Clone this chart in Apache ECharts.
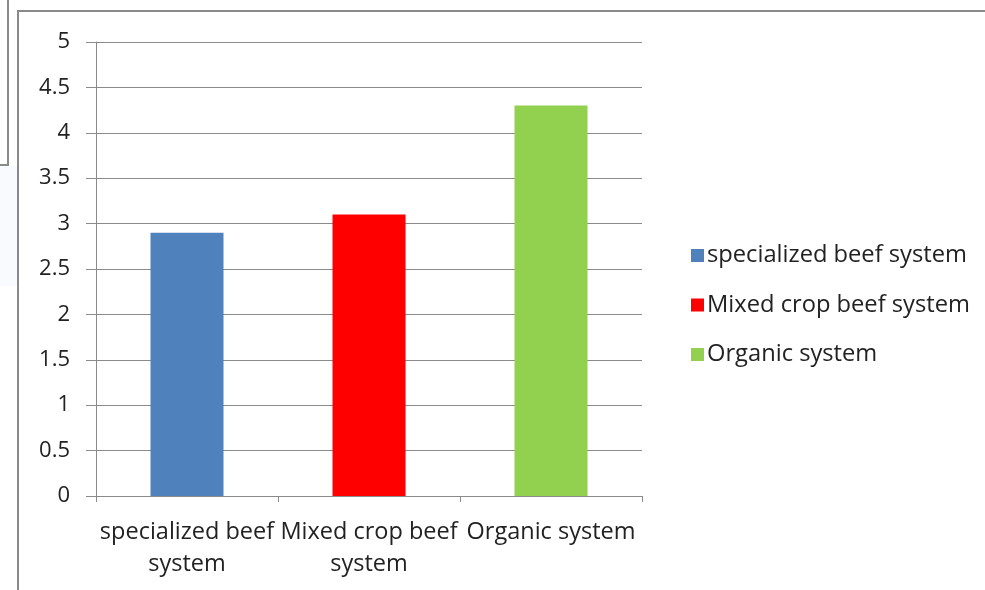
<!DOCTYPE html>
<html>
<head>
<meta charset="utf-8">
<script src="https://cdn.jsdelivr.net/npm/echarts@6/dist/echarts.min.js"></script>
<style>
  html, body { margin: 0; padding: 0; background: #fff; }
  #chart { width: 985px; height: 590px; }
</style>
</head>
<body>
<div id="chart"></div>
<script>
// Categories and values
const categories = ['specialized beef system', 'Mixed crop beef system', 'Organic system'];
const categoryLabels = ['specialized beef\nsystem', 'Mixed crop beef\nsystem', 'Organic system'];
const seriesNames = ['specialized beef system', 'Mixed crop beef system', 'Organic system'];
const values = [2.9, 3.1, 4.3];
const colors = ['#4f81bd', '#ff0000', '#92d050'];
const yTicks = [0, 0.5, 1, 1.5, 2, 2.5, 3, 3.5, 4, 4.5, 5];

const FONT = '"Open Sans", sans-serif';
const chart = echarts.init(document.getElementById('chart'), null, { renderer: 'canvas' });

// One series per system so each appears in the legend; stacked so each bar stays centred
const series = seriesNames.map((name, i) => ({
  name: name,
  type: 'bar',
  stack: 'total',
  barWidth: 73,
  itemStyle: { color: colors[i] },
  data: categories.map((c, j) => (j === i ? values[i] : '-'))
}));

chart.setOption({
  animation: false,
  textStyle: { fontFamily: FONT },
  graphic: [
    { type: 'rect', shape: { x: 0, y: 166, width: 17, height: 120 }, style: { fill: '#f8fafd' }, silent: true },
    { type: 'polyline', shape: { points: [[8, 0], [8, 165], [0, 165]] }, style: { stroke: '#8a8a8a', lineWidth: 2, fill: null } },
    { type: 'polyline', shape: { points: [[18, 590], [18, 11], [985, 11]] }, style: { stroke: '#8a8a8a', lineWidth: 2, fill: null } }
  ],
  grid: { left: 96, right: 343, top: 42, bottom: 94, containLabel: false },
  legend: {
    orient: 'vertical',
    left: 686,
    top: 236,
    icon: 'rect',
    itemWidth: 13,
    itemHeight: 13,
    itemGap: 20.5,
    textStyle: { fontFamily: FONT, fontSize: 23.7, lineHeight: 29, color: '#222', padding: [0, 0, 0, -2] },
    data: seriesNames
  },
  xAxis: {
    type: 'category',
    data: categories,
    axisLine: { lineStyle: { color: '#8a8a8a', width: 1 } },
    axisTick: { show: true, length: 6, lineStyle: { color: '#8a8a8a' } },
    axisLabel: {
      interval: 0,
      margin: 20,
      fontFamily: FONT,
      fontSize: 23.5,
      lineHeight: 32,
      color: '#222',
      formatter: (v, i) => categoryLabels[i]
    }
  },
  yAxis: {
    type: 'value',
    min: 0,
    max: 5,
    interval: 0.5,
    axisLine: { show: true, lineStyle: { color: '#8a8a8a', width: 1 } },
    axisTick: { show: true, inside: false, length: 10, lineStyle: { color: '#8a8a8a' } },
    splitLine: { lineStyle: { color: '#8a8a8a', width: 1 } },
    axisLabel: {
      margin: 26,
      fontFamily: FONT,
      fontSize: 22,
      color: '#222',
      formatter: v => (yTicks.indexOf(v) >= 0 ? String(v) : '')
    }
  },
  series: series
});
</script>
</body>
</html>
